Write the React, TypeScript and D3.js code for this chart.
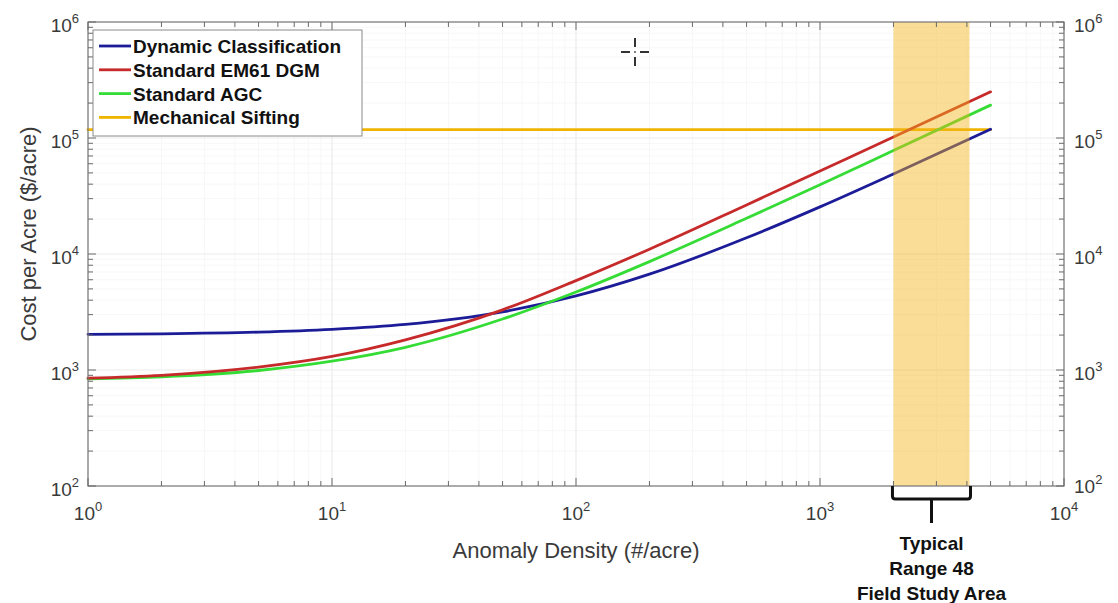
import React, { useEffect, useRef } from 'react';
import * as d3 from 'd3';

// values (log-log axes)
const densities = [1, 2, 5, 10, 20, 50, 100, 200, 500, 1000, 2000, 5000];
const dynamicCost = [2030, 2050, 2120, 2240, 2470, 3170, 4350, 6700, 13800, 25500, 49000, 119000];
const em61Cost = [850, 900, 1060, 1310, 1820, 3300, 5900, 11000, 26500, 52000, 102000, 250000];
const agcCost = [840, 875, 990, 1190, 1570, 2750, 4700, 8600, 20300, 39500, 78000, 192000];
const siftingDensity = [1, 5000];
const siftingCost = [118000, 118000];
const typicalRange = [2000, 4100];

const xTickExps = [0, 1, 2, 3, 4];
const yTickExps = [2, 3, 4, 5, 6];
const seriesNames = ['Dynamic Classification', 'Standard EM61 DGM', 'Standard AGC', 'Mechanical Sifting'];
const seriesColors = ['#1c1c98', '#c62a2a', '#36dc36', '#f0b400'];
const rangeLabel = ['Typical', 'Range 48', 'Field Study Area'];

const FONT = '"Liberation Sans", Arial, Helvetica, sans-serif';

const App = () => {
    const svgRef = useRef<SVGSVGElement>(null);

    useEffect(() => {
        const svg = d3.select(svgRef.current);
        svg.selectAll('*').remove();

        const width = 1118;
        const height = 603;
        const plot = { left: 88, right: 1064, top: 22, bottom: 486 };

        svg.attr('width', width).attr('height', height);
        svg.append('rect').attr('width', width).attr('height', height).style('fill', '#fff');

        // Scales
        const x = d3.scaleLog().domain([1, 1e4]).range([plot.left, plot.right]);
        const y = d3.scaleLog().domain([1e2, 1e6]).range([plot.bottom, plot.top]);

        // Grid (major + minor), very faint
        const minorX: number[] = [];
        for (let e = 0; e < 4; e++) for (let m = 2; m <= 9; m++) minorX.push(m * Math.pow(10, e));
        const minorY: number[] = [];
        for (let e = 2; e < 6; e++) for (let m = 2; m <= 9; m++) minorY.push(m * Math.pow(10, e));

        const grid = svg.append('g');
        minorX.forEach(v => {
            grid.append('line')
                .attr('x1', x(v)).attr('x2', x(v)).attr('y1', plot.top).attr('y2', plot.bottom)
                .style('stroke', '#f7f7f7').style('stroke-width', 1);
        });
        minorY.forEach(v => {
            grid.append('line')
                .attr('x1', plot.left).attr('x2', plot.right).attr('y1', y(v)).attr('y2', y(v))
                .style('stroke', '#f7f7f7').style('stroke-width', 1);
        });
        xTickExps.forEach(e => {
            grid.append('line')
                .attr('x1', x(Math.pow(10, e))).attr('x2', x(Math.pow(10, e)))
                .attr('y1', plot.top).attr('y2', plot.bottom)
                .style('stroke', '#ebebeb').style('stroke-width', 1.2);
        });
        yTickExps.forEach(e => {
            grid.append('line')
                .attr('x1', plot.left).attr('x2', plot.right)
                .attr('y1', y(Math.pow(10, e))).attr('y2', y(Math.pow(10, e)))
                .style('stroke', '#ebebeb').style('stroke-width', 1.2);
        });

        // Series
        const line = d3.line<[number, number]>()
            .x(d => x(d[0]))
            .y(d => y(d[1]))
            .curve(d3.curveMonotoneX);

        const series: [number, number][][] = [
            densities.map((d, i) => [d, dynamicCost[i]]),
            densities.map((d, i) => [d, em61Cost[i]]),
            densities.map((d, i) => [d, agcCost[i]]),
            siftingDensity.map((d, i) => [d, siftingCost[i]]),
        ];
        const drawOrder = [3, 0, 2, 1];
        drawOrder.forEach(i => {
            svg.append('path')
                .datum(series[i])
                .attr('d', line)
                .style('fill', 'none')
                .style('stroke', seriesColors[i])
                .style('stroke-width', 2.8)
                .style('stroke-linecap', 'round');
        });

        // Typical range band (translucent, on top of the lines)
        svg.append('rect')
            .attr('x', x(typicalRange[0]))
            .attr('y', plot.top)
            .attr('width', x(typicalRange[1]) - x(typicalRange[0]))
            .attr('height', plot.bottom - plot.top)
            .style('fill', '#f4b418')
            .style('fill-opacity', 0.45);

        // Axes box
        svg.append('rect')
            .attr('x', plot.left).attr('y', plot.top)
            .attr('width', plot.right - plot.left).attr('height', plot.bottom - plot.top)
            .style('fill', 'none').style('stroke', '#7a7a7a').style('stroke-width', 1.2);

        // Ticks (inward, all four sides)
        const ticks = svg.append('g').style('stroke', '#6a6a6a').style('stroke-width', 1);
        const xTickVals = minorX.concat(xTickExps.map(e => Math.pow(10, e)));
        xTickVals.forEach(v => {
            const len = Number.isInteger(Math.log10(v)) ? 8 : 5;
            ticks.append('line').attr('x1', x(v)).attr('x2', x(v)).attr('y1', plot.bottom).attr('y2', plot.bottom - len);
            ticks.append('line').attr('x1', x(v)).attr('x2', x(v)).attr('y1', plot.top).attr('y2', plot.top + len);
        });
        const yTickVals = minorY.concat(yTickExps.map(e => Math.pow(10, e)));
        yTickVals.forEach(v => {
            const len = Number.isInteger(Math.log10(v)) ? 8 : 5;
            ticks.append('line').attr('x1', plot.left).attr('x2', plot.left + len).attr('y1', y(v)).attr('y2', y(v));
            ticks.append('line').attr('x1', plot.right).attr('x2', plot.right - len).attr('y1', y(v)).attr('y2', y(v));
        });

        // Tick labels
        const powLabel = (g: any, base: number, exp: number) => {
            g.append('tspan').text(String(base));
            g.append('tspan').attr('dy', -9).style('font-size', '13px').text(String(exp));
        };
        xTickExps.forEach(e => {
            const t = svg.append('text')
                .attr('x', x(Math.pow(10, e)))
                .attr('y', 520)
                .attr('text-anchor', 'middle')
                .style('font-family', FONT).style('font-size', '19px').style('fill', '#3a3a3a');
            powLabel(t, 10, e);
        });
        yTickExps.forEach(e => {
            const left = svg.append('text')
                .attr('x', 79)
                .attr('y', y(Math.pow(10, e)) + 10)
                .attr('text-anchor', 'end')
                .style('font-family', FONT).style('font-size', '19px').style('fill', '#3a3a3a');
            powLabel(left, 10, e);
            const right = svg.append('text')
                .attr('x', 1074)
                .attr('y', y(Math.pow(10, e)) + (e === 2 ? 7 : 10))
                .attr('text-anchor', 'start')
                .style('font-family', FONT).style('font-size', '19px').style('fill', '#3a3a3a');
            powLabel(right, 10, e);
        });

        // Axis titles
        svg.append('text')
            .attr('x', (plot.left + plot.right) / 2)
            .attr('y', 558)
            .attr('text-anchor', 'middle')
            .style('font-family', FONT).style('font-size', '22px').style('fill', '#3a3a3a')
            .text('Anomaly Density (#/acre)');
        svg.append('text')
            .attr('transform', 'translate(36, 234) rotate(-90)')
            .attr('text-anchor', 'middle')
            .style('font-family', FONT).style('font-size', '22px').style('fill', '#3a3a3a')
            .text('Cost per Acre ($/acre)');

        // Legend
        const legend = svg.append('g');
        legend.append('rect')
            .attr('x', 93).attr('y', 30).attr('width', 269).attr('height', 106)
            .style('fill', '#fff').style('stroke', '#8a8a8a').style('stroke-width', 1);
        seriesNames.forEach((name, i) => {
            const ly = 46 + i * 23.8;
            legend.append('line')
                .attr('x1', 99).attr('x2', 131).attr('y1', ly).attr('y2', ly)
                .style('stroke', seriesColors[i]).style('stroke-width', 2.8);
            legend.append('text')
                .attr('x', 133).attr('y', ly + 7)
                .style('font-family', FONT).style('font-size', '19px').style('font-weight', 'bold')
                .style('fill', '#111')
                .text(name);
        });

        // Bracket under the typical range
        const bx0 = x(typicalRange[0]) - 1;
        const bx1 = x(typicalRange[1]) + 1;
        const bMid = (bx0 + bx1) / 2;
        svg.append('path')
            .attr('d', `M${bx0},${plot.bottom} V${plot.bottom + 10} Q${bx0},${plot.bottom + 13} ${bx0 + 3},${plot.bottom + 13} H${bx1 - 3} Q${bx1},${plot.bottom + 13} ${bx1},${plot.bottom + 10} V${plot.bottom}`)
            .style('fill', 'none').style('stroke', '#111').style('stroke-width', 3);
        svg.append('line')
            .attr('x1', bMid).attr('x2', bMid).attr('y1', plot.bottom + 13).attr('y2', 523)
            .style('stroke', '#111').style('stroke-width', 3);
        rangeLabel.forEach((txt, i) => {
            svg.append('text')
                .attr('x', bMid)
                .attr('y', 550 + i * 25)
                .attr('text-anchor', 'middle')
                .style('font-family', FONT).style('font-size', '19px').style('font-weight', 'bold')
                .style('fill', '#111')
                .text(txt);
        });

        // Cursor crosshair in the source screenshot
        const cx = 635;
        const cy = 52;
        const cross = svg.append('g').style('stroke', '#333').style('stroke-width', 2);
        [[-14, -5], [5, 14]].forEach(([a, b]) => {
            cross.append('line').attr('x1', cx + a).attr('x2', cx + b).attr('y1', cy).attr('y2', cy);
            cross.append('line').attr('x1', cx).attr('x2', cx).attr('y1', cy + a).attr('y2', cy + b);
        });
        svg.append('circle').attr('cx', cx).attr('cy', cy).attr('r', 1).style('fill', '#555');
    }, []);

    return (
        <div style={{ position: 'absolute', left: 0, top: 0, width: 1118, height: 603 }}>
            <svg ref={svgRef} style={{ display: 'block' }}></svg>
        </div>
    );
};

export default App;
